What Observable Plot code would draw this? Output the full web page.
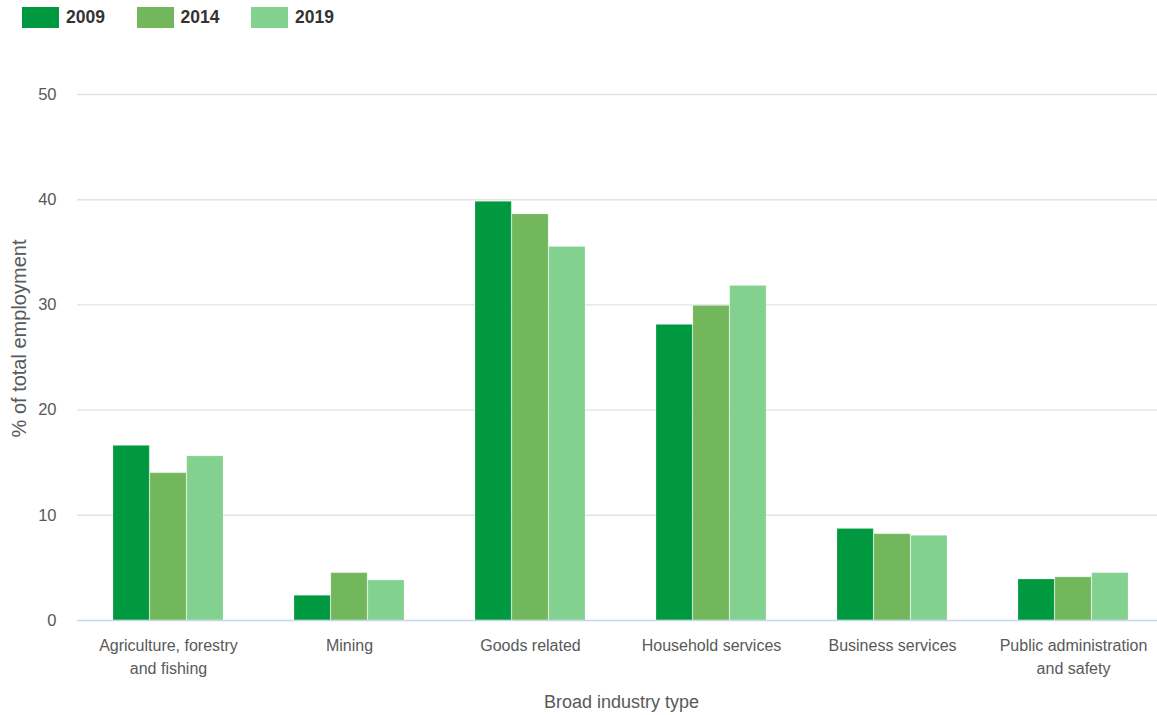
<!DOCTYPE html>
<html>
<head>
<meta charset="utf-8">
<script src="https://cdn.jsdelivr.net/npm/d3@7"></script>
<script src="https://cdn.jsdelivr.net/npm/@observablehq/plot@0.6"></script>
<style>
  html, body { margin: 0; padding: 0; background: #fff; }
  #legend { position: relative; height: 36px; font-family: "Liberation Sans", Arial, sans-serif; }
  .item { position: absolute; top: 7px; height: 21px; display: flex; align-items: center; }
  .sw { width: 37px; height: 21px; }
  .lb { margin-left: 7px; font-weight: bold; font-size: 17.5px; color: #333; line-height: 23px; }
</style>
</head>
<body>
<div id="legend"></div>
<div id="chart"></div>
<script>
const categories = ["Agriculture, forestry and fishing", "Mining", "Goods related", "Household services", "Business services", "Public administration and safety"];
const tickLabels = ["Agriculture, forestry\nand fishing", "Mining", "Goods related", "Household services", "Business services", "Public administration\nand safety"];
const years = ["2009", "2014", "2019"];
const colors = ["#009940", "#72b75b", "#82d18f"];
const values2009 = [16.6, 2.35, 39.8, 28.1, 8.7, 3.9];
const values2014 = [14.0, 4.5, 38.6, 29.9, 8.2, 4.1];
const values2019 = [15.6, 3.8, 35.5, 31.8, 8.05, 4.5];
const yTicks = [0, 10, 20, 30, 40, 50];
const xTitle = "Broad industry type";
const yTitle = "% of total employment";

const series = [values2009, values2014, values2019];

// legend
const legend = document.getElementById("legend");
years.forEach((yr, i) => {
  const it = document.createElement("div");
  it.className = "item";
  it.style.left = (22 + i * 114.5) + "px";
  const sw = document.createElement("div");
  sw.className = "sw";
  sw.style.background = colors[i];
  const lb = document.createElement("span");
  lb.className = "lb";
  lb.textContent = yr;
  it.appendChild(sw); it.appendChild(lb);
  legend.appendChild(it);
});

const W = 1157, H = 679, mL = 77, mR = -8, mT = 58, mB = 95;
const padIn = 0.39, padOut = 0.195;
const step = (W - mL - mR) / (categories.length - padIn + 2 * padOut);
const third = step * (1 - padIn) / years.length;

const font = "'Liberation Sans', Arial, sans-serif";
const barMarks = years.map((yr, j) => Plot.barY(categories.map((c, i) => ({category: c, year: yr, value: series[j][i]})), {
  x: "category", y: "value", fill: "year",
  insetLeft: j * third, insetRight: (years.length - 1 - j) * third,
  stroke: "white", strokeOpacity: 0.2, strokeWidth: 1
}));

const chart = Plot.plot({
  width: W,
  height: H,
  marginLeft: mL,
  marginRight: mR,
  marginTop: mT,
  marginBottom: mB,
  style: {fontFamily: font, fontSize: "16px", color: "#595959", background: "white", overflow: "hidden"},
  x: {domain: categories, paddingInner: padIn, paddingOuter: padOut, label: null},
  y: {domain: [0, 50], ticks: yTicks, label: null},
  color: {domain: years, range: colors},
  marks: [
    Plot.ruleY(yTicks.filter(d => d > 0), {stroke: "#e2e2e2", strokeWidth: 1.4}),
    ...barMarks,
    Plot.ruleY([0], {stroke: "#c6d6ec", strokeWidth: 1.5}),
    Plot.axisY({ticks: yTicks, tickSize: 0, tickPadding: 21, label: null, fill: "#595959", fontSize: 16.5}),
    Plot.axisX({tickSize: 0, tickPadding: 14, lineHeight: 1.44, label: null, fill: "#595959", fontSize: 16,
      tickFormat: d => tickLabels[categories.indexOf(d)]}),
    Plot.text([xTitle], {frameAnchor: "bottom", dy: 82, lineAnchor: "middle", fontSize: 18, fill: "#595959"}),
    Plot.text([yTitle], {frameAnchor: "left", dx: -58, dy: -19, rotate: -90, lineAnchor: "middle", textAnchor: "middle",
      fontSize: 20, fill: "#595959"})
  ]
});
document.getElementById("chart").appendChild(chart);
</script>
</body>
</html>
